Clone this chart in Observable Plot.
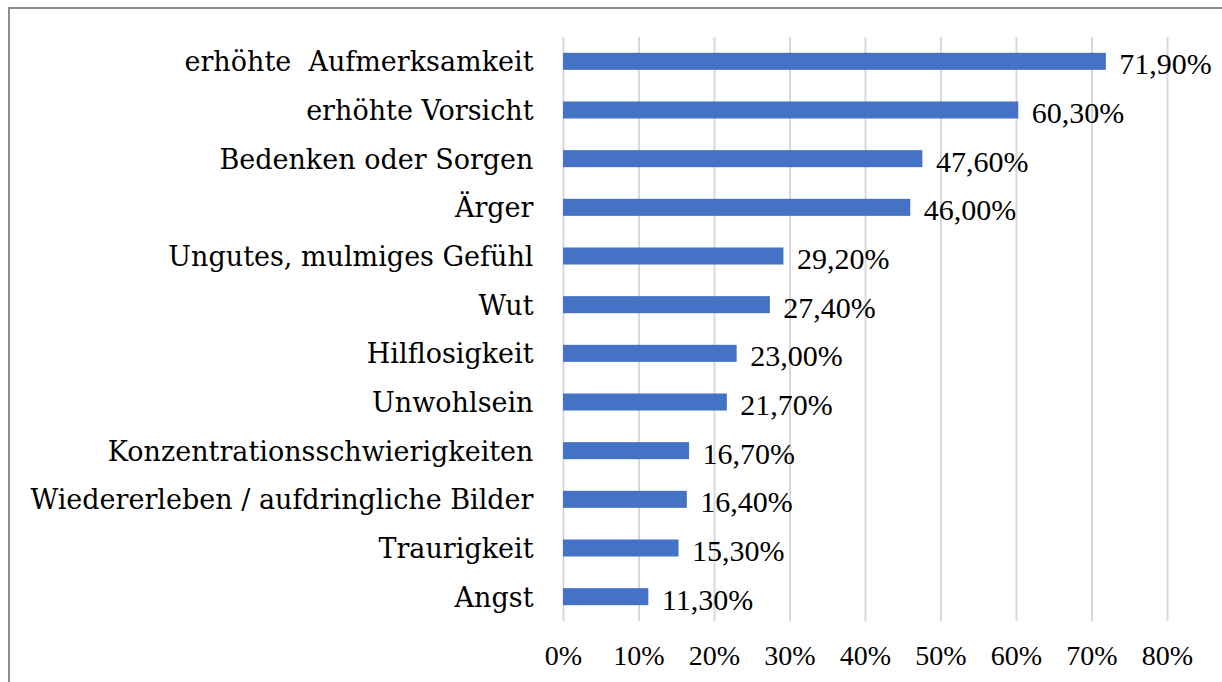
<!DOCTYPE html>
<html><head><meta charset="utf-8">
<script src="https://cdn.jsdelivr.net/npm/d3@7"></script>
<script src="https://cdn.jsdelivr.net/npm/@observablehq/plot@0.6"></script>
<style>
html,body{margin:0;padding:0;background:#fff;overflow:hidden;width:1222px;height:682px;}
#frame{position:absolute;left:8px;top:7px;width:1240px;height:700px;border:2px solid #8c8c8c;box-sizing:border-box;}
#chart{position:absolute;left:0;top:0;}
#chart text{white-space:pre;}
</style></head>
<body><div id="frame"></div><div id="chart"></div>
<script>
const categories = ["erhöhte  Aufmerksamkeit","erhöhte Vorsicht","Bedenken oder Sorgen","Ärger","Ungutes, mulmiges Gefühl","Wut","Hilflosigkeit","Unwohlsein","Konzentrationsschwierigkeiten","Wiedererleben / aufdringliche Bilder","Traurigkeit","Angst"];
const values = [71.9,60.3,47.6,46.0,29.2,27.4,23.0,21.7,16.7,16.4,15.3,11.3];
const xTicks = [0,10,20,30,40,50,60,70,80];
const data = categories.map((c,i)=>({cat:c, v:values[i]}));
const fmt = v => v.toFixed(2).replace(".", ",") + "%";
const serif = "'Liberation Serif', serif";
const catFont = "'DejaVu Serif', serif";
const chart = Plot.plot({
  width:1222, height:682,
  marginLeft:563, marginRight:55, marginTop:37, marginBottom:61,
  style:{fontFamily:serif, fontSize:"28px", color:"#000", background:"transparent"},
  x:{domain:[0,80], label:null},
  y:{domain:categories, paddingInner:0.65, paddingOuter:0.325, round:false, label:null},
  marks:[
    Plot.gridX(xTicks,{stroke:"#d9d9d9", strokeOpacity:1, strokeWidth:2}),
    Plot.barX(data,{y:"cat", x:"v", fill:"#4472C4"}),
    Plot.text(data,{y:"cat", x:"v", text:d=>fmt(d.v), textAnchor:"start", dx:13, dy:3, fill:"#000", fontSize:30, fontFamily:serif}),
    Plot.axisX({ticks:xTicks, tickFormat:d=>d+"%", tickSize:0, tickPadding:24, fontSize:28, fontFamily:serif, label:null}),
    Plot.axisY({tickSize:0, tickPadding:30, fontSize:27, fontFamily:catFont, label:null, dy:1})
  ]
});
document.getElementById("chart").appendChild(chart);
</script></body></html>
